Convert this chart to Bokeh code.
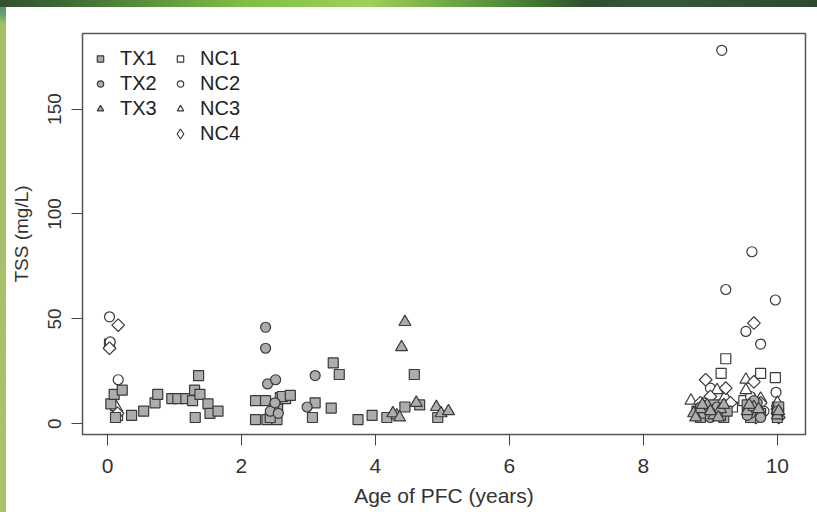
import math
import re
from bokeh.plotting import figure
from bokeh.models import Range1d, FixedTicker, Legend, LegendItem, ColumnDataSource
from bokeh.embed import file_html
from bokeh.resources import INLINE

# ---- data ----
tx1_x = [0.05, 0.10, 0.12, 0.22, 0.36, 0.54, 0.71, 0.75, 0.96, 1.05, 1.17, 1.27, 1.30, 1.36, 1.38,
         1.31, 1.50, 1.53, 1.65, 2.21, 2.36, 2.21, 2.38, 2.53, 2.58, 2.66, 2.61, 2.73, 2.54, 2.43,
         3.10, 3.37, 3.46, 3.06, 3.34, 3.74, 3.95, 4.17, 4.44, 4.58, 4.66, 4.93,
         8.80, 8.90, 9.00, 9.10, 9.20, 9.55, 9.70, 10.00,
         8.85, 8.95, 9.05, 9.15, 9.25, 9.60, 9.65, 9.75, 10.00, 10.02]
tx1_y = [9.5, 14, 3, 16, 4, 6, 10, 14, 12, 12, 12, 11, 16, 23, 14,
         3, 9.5, 5, 6, 11, 11, 2, 2, 2, 12.5, 12, 13, 13.5, 7, 3,
         10, 29, 23.5, 3, 7.5, 2, 4, 3, 8, 23.5, 9, 3,
         6, 4, 8, 5, 3, 9, 6, 6,
         3, 6, 9, 4, 6, 3, 8, 5, 3, 8]

tx2_x = [2.36, 2.36, 2.39, 2.51, 2.48, 2.43, 2.55, 2.50, 3.10, 2.98, 8.85, 9.05, 9.60, 9.70, 9.75,
         8.90, 9.00, 9.10, 9.55, 9.65, 10.00]
tx2_y = [46, 36, 19, 21, 8, 6, 5, 10, 23, 8, 8, 6, 5, 10, 3,
         5, 3, 8, 4, 11, 6]

tx3_x = [4.44, 4.39, 4.32, 4.26, 4.36, 4.61, 4.91, 4.98, 5.09, 8.75, 8.85, 8.95, 9.05, 9.15, 9.55, 9.65, 10.00,
         8.78, 8.88, 9.00, 9.12, 9.20, 9.58, 9.72, 10.02]
tx3_y = [48.5, 36.5, 4, 5, 3, 10, 8, 5, 6, 5, 7, 9, 4, 7, 6, 8, 4,
         3, 9, 6, 3, 9, 9, 7, 6]

nc1_x = [0.03, 0.15, 9.23, 9.16, 9.75, 9.97, 9.33, 9.50, 10.00, 8.95]
nc1_y = [38, 4, 31, 24, 24, 22, 8, 11, 8, 10]

nc2_x = [0.03, 0.16, 0.04, 0.14, 9.17, 9.62, 9.23, 9.97, 9.53, 9.75, 9.98, 9.18, 9.70, 9.60, 9.00,
         9.55, 9.65, 9.80, 10.00]
nc2_y = [51, 21, 39, 5, 178, 82, 64, 59, 44, 38, 15, 8, 9, 13, 17,
         6, 3, 6, 3]

nc3_x = [0.13, 9.53, 9.53, 9.22, 8.71, 9.75, 10.00, 9.10]
nc3_y = [8, 21, 16, 13, 11, 12, 10, 16]

nc4_x = [0.16, 0.03, 0.15, 8.93, 9.23, 9.65, 9.65, 9.00, 9.70, 10.00, 10.00, 9.30,
         9.60, 9.75, 9.68, 10.02, 9.02, 8.85]
nc4_y = [47, 36, 5, 21, 17, 48, 20, 13, 5, 5, 7, 10,
         9, 10, 3, 3, 8, 10]

x_ticks = [0, 2, 4, 6, 8, 10]
y_ticks = [0, 50, 100, 150]

FONT = "Liberation Sans"
LINE = "#3a3a3a"
GRAY = "#adadad"

p = figure(width=811, height=505, title=None,
           x_range=Range1d(-0.373, 10.42), y_range=Range1d(-5.1, 186),
           output_backend="svg", toolbar_location=None,
           min_border_left=76, min_border_right=12, min_border_top=26, min_border_bottom=78)

p.xgrid.visible = False
p.ygrid.visible = False
p.background_fill_color = "white"
p.border_fill_color = "white"
p.outline_line_color = "#555555"
p.outline_line_width = 1.5

p.xaxis.ticker = FixedTicker(ticks=x_ticks)
p.yaxis.ticker = FixedTicker(ticks=y_ticks)
for ax, fs in ((p.xaxis[0], "21px"), (p.yaxis[0], "19px")):
    ax.axis_line_color = None
    ax.major_tick_out = 11
    ax.major_tick_in = 0
    ax.minor_tick_out = 0
    ax.minor_tick_in = 0
    ax.major_tick_line_color = "#444444"
    ax.major_label_text_font = FONT
    ax.major_label_text_font_size = fs
    ax.major_label_text_color = "#333333"
    ax.axis_label_text_font = FONT
    ax.axis_label_text_font_size = fs
    ax.axis_label_text_font_style = "normal"
    ax.axis_label_text_color = "#333333"

p.xaxis.axis_label = "Age of PFC (years)"
p.yaxis.axis_label = "TSS (mg/L)"
p.yaxis.major_label_orientation = "vertical"
p.xaxis.major_label_standoff = 13
p.xaxis.axis_label_standoff = 8
p.yaxis.major_label_standoff = 10
p.yaxis.axis_label_standoff = 14


def pts(marker, xs, ys, fill, size, angle=0.0):
    src = ColumnDataSource(dict(x=xs, y=ys))
    return p.scatter("x", "y", source=src, marker=marker, size=size, angle=angle,
                     fill_color=fill, line_color=LINE, line_width=1.2)


r_nc1 = pts("square", nc1_x, nc1_y, "white", 10)
r_nc2 = pts("circle", nc2_x, nc2_y, "white", 10)
r_nc3 = pts("triangle", nc3_x, nc3_y, "white", 12)
r_nc4 = pts("square", nc4_x, nc4_y, "white", 9, angle=math.pi / 4)
r_tx1 = pts("square", tx1_x, tx1_y, GRAY, 10)
r_tx2 = pts("circle", tx2_x, tx2_y, GRAY, 10)
r_tx3 = pts("triangle", tx3_x, tx3_y, GRAY, 12)
# legend-only key for NC4 (the legend does not rotate markers); NaN point is never drawn
r_nc4_key = p.scatter(x=[float("nan")], y=[float("nan")], marker="diamond", size=9,
                      fill_color="white", line_color=LINE, line_width=1.2)


def make_legend(items, location, gw=16, standoff=12):
    return Legend(items=[LegendItem(label=l, renderers=[r]) for l, r in items],
                  location=location, margin=0, padding=0, spacing=0,
                  glyph_width=gw, glyph_height=25, label_height=25, label_standoff=standoff,
                  border_line_color=None, background_fill_alpha=0,
                  label_text_font=FONT, label_text_font_size="20px", label_text_color="#222222")


leg_tx = make_legend([("TX1", r_tx1), ("TX2", r_tx2), ("TX3", r_tx3)], (10, 313))
leg_nc = make_legend([("NC1", r_nc1), ("NC2", r_nc2), ("NC3", r_nc3)], (90, 313))
leg_nc4 = make_legend([("NC4", r_nc4_key)], (84, 288), gw=28, standoff=6)
p.add_layout(leg_tx)
p.add_layout(leg_nc)
p.add_layout(leg_nc4)

html = file_html(p, INLINE)
bg = ("linear-gradient(to right,#33502f 0%,#3d6a36 8%,#7fbf45 30%,#9fd05a 45%,#4f8a38 62%,"
      "#2f4d30 72%,#35583a 80%,#2d4a31 100%) 0 0/817px 7px no-repeat,"
      "linear-gradient(to bottom,#5b8a6e 0px,#6b9a70 14px,#a6bf6c 24px,#a9c16c 512px) 0 0/6px 512px no-repeat,"
      "#ffffff")
css = ("<style>html{margin:0 !important;padding:0 !important;background:#ffffff;}"
       "body{margin:0 !important;padding:7px 0 0 6px !important;background:%s !important;}</style>" % bg)
html = re.sub(r"</head>", css + "</head>", html, count=1)
open("out.html", "w").write(html)
